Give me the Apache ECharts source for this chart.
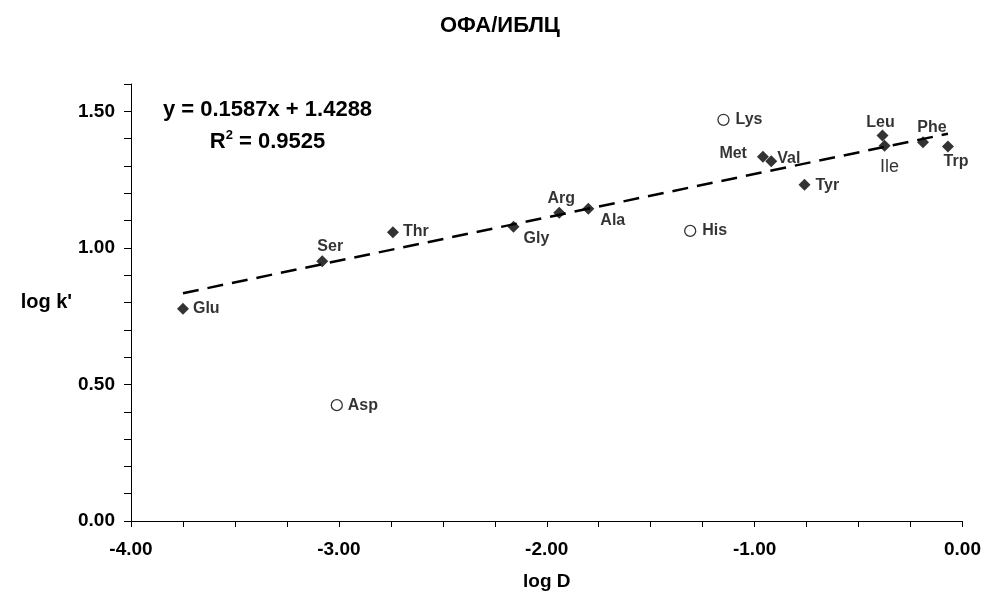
<!DOCTYPE html>
<html>
<head>
<meta charset="utf-8">
<script src="https://cdn.jsdelivr.net/npm/echarts@6/dist/echarts.min.js"></script>
<style>
html,body{margin:0;padding:0;background:#fff;}
#chart{width:984px;height:596px;}
</style>
</head>
<body>
<div id="chart"></div>
<script>
// Fitted amino acids (filled diamonds)
var fitNames = ['Glu','Ser','Thr','Gly','Arg','Ala','Met','Val','Tyr','Leu','Ile','Phe','Trp'];
var fitX     = [-3.75,-3.08,-2.74,-2.16,-1.94,-1.80,-0.96,-0.92,-0.76,-0.385,-0.375,-0.19,-0.07];
var fitY     = [0.777,0.951,1.057,1.077,1.129,1.143,1.334,1.317,1.231,1.411,1.374,1.387,1.371];
// Outliers (open circles)
var outNames = ['Asp','His','Lys'];
var outX     = [-3.01,-1.31,-1.15];
var outY     = [0.424,1.062,1.469];
// Trend line endpoints
var trendX = [-3.75,-0.07];
var trendY = [0.834,1.418];
// Axis tick labels
var xTickLabels = ['-4.00','-3.00','-2.00','-1.00','0.00'];
var yTickLabels = ['0.00','0.50','1.00','1.50'];

var FONT = "'Liberation Sans', Arial, sans-serif";

// label placement (style only): [align, dx, dy, weight, size]
var labelLayout = {
  Glu:['left',10,0], Ser:['center',8,-15], Asp:['left',11,0], Thr:['left',10,-1],
  Gly:['left',10,12], Arg:['center',2,-14], Ala:['left',12,12], His:['left',12,0],
  Lys:['left',12,0], Met:['right',-16,-3], Val:['left',6,-3], Tyr:['left',11,1],
  Leu:['center',-2,-13], Ile:['center',5,21,'normal',18], Phe:['center',9,-15],
  Trp:['center',8,15]
};

function mkItem(name, x, y){
  var l = labelLayout[name];
  return {
    name: name,
    value: [x, y],
    label: {
      show: true,
      formatter: name,
      position: 'inside',
      align: l[0],
      verticalAlign: 'middle',
      offset: [l[1], l[2]],
      color: '#000',
      fontFamily: FONT,
      fontWeight: l[3] || 'bold',
      fontSize: l[4] || 16
    }
  };
}

var fitData = fitNames.map(function(n,i){ return mkItem(n, fitX[i], fitY[i]); });
var outData = outNames.map(function(n,i){ return mkItem(n, outX[i], outY[i]); });
var trendData = trendX.map(function(x,i){ return [x, trendY[i]]; });

function fmtX(v){
  var idx = Math.round(v + 4);
  if (Math.abs(v - Math.round(v)) > 1e-6) return '';
  return xTickLabels[idx];
}
function fmtY(v){
  var k = v * 2;
  if (Math.abs(k - Math.round(k)) > 1e-6) return '';
  var idx = Math.round(k);
  return yTickLabels[idx] || '';
}

var chart = echarts.init(document.getElementById('chart'), null, {renderer:'canvas'});
chart.setOption({
  animation: false,
  backgroundColor: '#fff',
  title: {
    text: 'ОФА/ИБЛЦ',
    left: 440,
    top: 15,
    padding: 0,
    textStyle: {fontFamily: FONT, fontWeight: 'bold', fontSize: 22, color: '#000'}
  },
  grid: {left: 131, right: 20, top: 84, bottom: 73, containLabel: false},
  xAxis: {
    type: 'value',
    min: -4, max: 0, interval: 0.25,
    name: 'log D',
    nameLocation: 'middle',
    nameGap: 51,
    nameTextStyle: {fontFamily: FONT, fontWeight: 'bold', fontSize: 19, color: '#000'},
    axisLine: {show: true, onZero: false, lineStyle: {color: '#000', width: 1}},
    axisTick: {show: true, length: 6, lineStyle: {color: '#000', width: 1}},
    axisLabel: {
      show: true, margin: 19, formatter: fmtX, showMinLabel: true, showMaxLabel: true,
      fontFamily: FONT, fontWeight: 'bold', fontSize: 19, color: '#000'
    },
    splitLine: {show: false}
  },
  yAxis: {
    type: 'value',
    min: 0, max: 1.6, interval: 0.1,
    name: "log k'",
    nameLocation: 'middle',
    nameRotate: 0,
    nameGap: 58,
    nameTextStyle: {fontFamily: FONT, fontWeight: 'bold', fontSize: 20, color: '#000', align: 'right', verticalAlign: 'middle'},
    axisLine: {show: true, onZero: false, lineStyle: {color: '#000', width: 1}},
    axisTick: {show: true, length: 7, lineStyle: {color: '#000', width: 1}},
    axisLabel: {
      show: true, margin: 16, formatter: fmtY,
      fontFamily: FONT, fontWeight: 'bold', fontSize: 19, color: '#000'
    },
    splitLine: {show: false}
  },
  graphic: [
    {
      type: 'text', x: 267.5, y: 110, z: 100,
      style: {
        text: 'y = 0.1587x + 1.4288',
        fontFamily: FONT, fontWeight: 'bold', fontSize: 22, fill: '#000',
        align: 'center', verticalAlign: 'middle'
      }
    },
    {
      type: 'text', x: 267.5, y: 142, z: 100,
      style: {
        text: '{a|R}{s|2}{a| = 0.9525}',
        align: 'center', verticalAlign: 'middle',
        rich: {
          a: {fontFamily: FONT, fontWeight: 'bold', fontSize: 22, fill: '#000', lineHeight: 26},
          s: {fontFamily: FONT, fontWeight: 'bold', fontSize: 13, fill: '#000', verticalAlign: 'top', lineHeight: 14}
        }
      }
    }
  ],
  series: [
    {
      type: 'line',
      data: trendData,
      symbol: 'none',
      silent: true,
      z: 1,
      lineStyle: {color: '#000', width: 2.5, type: [16, 9]}
    },
    {
      type: 'scatter',
      data: fitData,
      symbol: 'diamond',
      symbolSize: 12,
      z: 3,
      itemStyle: {color: '#000'}
    },
    {
      type: 'scatter',
      data: outData,
      symbol: 'circle',
      symbolSize: 11,
      z: 3,
      itemStyle: {color: '#fff', borderColor: '#000', borderWidth: 1.3}
    }
  ]
});
</script>
</body>
</html>
